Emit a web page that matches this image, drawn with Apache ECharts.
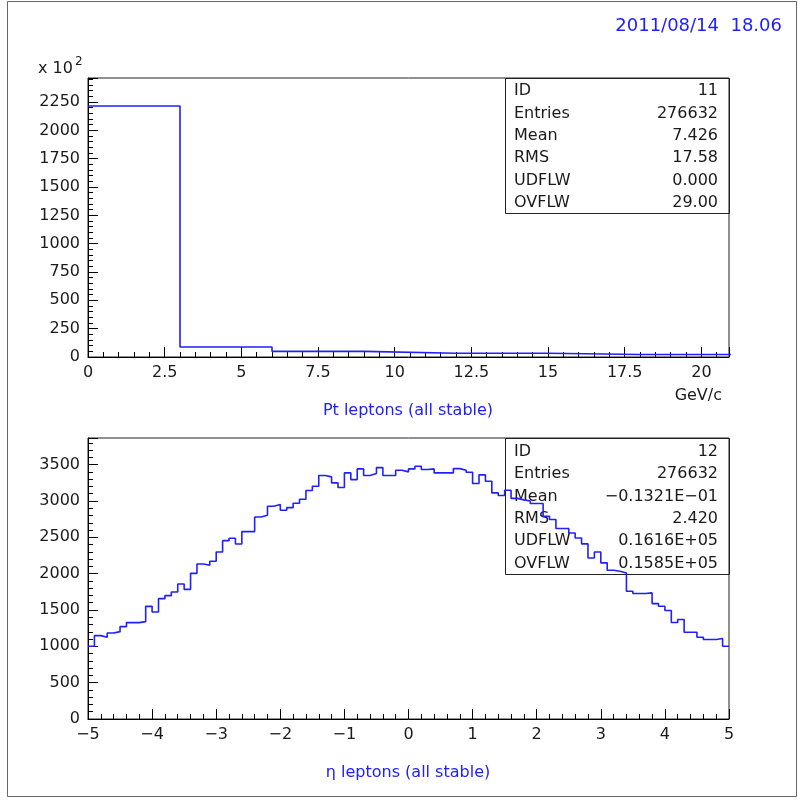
<!DOCTYPE html>
<html>
<head>
<meta charset="utf-8">
<script src="https://cdn.jsdelivr.net/npm/echarts@6/dist/echarts.min.js"></script>
<style>
  html, body { margin: 0; padding: 0; background: #ffffff; }
  #chart { width: 798px; height: 800px; }
</style>
</head>
<body>
<div id="chart"></div>
<script>
// ---- Histogram 11: Pt of stable leptons (counts in units of 10^2) ----
const ptBinEdges = [0, 3, 6, 9, 12, 15, 18, 21];
const ptCounts = [2215, 88, 50, 33, 33, 22, 22];
const ptStats = [
  ['ID', '11'], ['Entries', '276632'], ['Mean', '7.426'],
  ['RMS', '17.58'], ['UDFLW', '0.000'], ['OVFLW', '29.00']
];

// ---- Histogram 12: eta of stable leptons, 100 bins on [-5, 5] ----
const etaRange = [-5, 5];
const etaCounts = [
  1000, 1147, 1124, 1184, 1202, 1271, 1326, 1326, 1340, 1550,
  1472, 1656, 1697, 1748, 1858, 1784, 2004, 2133, 2115, 2170,
  2298, 2454, 2486, 2408, 2578, 2578, 2780, 2803, 2927, 2950,
  2872, 2908, 2968, 3023, 3143, 3203, 3350, 3331, 3249, 3184,
  3386, 3294, 3441, 3350, 3377, 3459, 3350, 3350, 3423, 3400,
  3441, 3478, 3432, 3441, 3386, 3386, 3386, 3445, 3423, 3395,
  3240, 3359, 3271, 3111, 3074, 3148, 3035, 3015, 3000, 2964,
  2964, 2790, 2745, 2620, 2620, 2560, 2491, 2409, 2216, 2298,
  2148, 2047, 2033, 2010, 1758, 1726, 1726, 1735, 1588, 1551,
  1492, 1327, 1368, 1193, 1193, 1125, 1093, 1093, 1107, 1001
];
const etaStats = [
  ['ID', '12'], ['Entries', '276632'], ['Mean', '\u22120.1321E\u221201'],
  ['RMS', '2.420'], ['UDFLW', '0.1616E+05'], ['OVFLW', '0.1585E+05']
];

// ---- Text ----
const dateStamp = '2011/08/14  18.06';
const ptTitle = 'Pt leptons (all stable)';
const etaTitle = '\u03b7 leptons (all stable)';
const ptUnit = 'GeV/c';

const FONT = '"DejaVu Sans", sans-serif';
const BLUE = '#2020ff';
const INK = '#1a1a1a';

// Outline of a histogram as a stepped polyline through the bin edges.
function stepPoints(edges, counts) {
  const pts = counts.map((c, i) => [edges[i], c]);
  pts.push([edges[edges.length - 1], counts[counts.length - 1]]);
  return pts;
}
const etaEdges = [];
for (let i = 0; i <= etaCounts.length; i++) {
  etaEdges.push(etaRange[0] + (etaRange[1] - etaRange[0]) * i / etaCounts.length);
}

function onGrid(v, step) {
  const r = v / step;
  return Math.abs(r - Math.round(r)) < 1e-6;
}
function fmt(v) {
  let s = String(Math.round(v * 1000) / 1000);
  return s.replace('-', '\u2212');
}

function majorAxis(gridIndex, min, max, interval, position) {
  return {
    type: 'value', gridIndex, min, max, interval, position,
    axisLine: { show: true, onZero: false, lineStyle: { color: '#000', width: 1 } },
    axisTick: { show: true, inside: true, length: 10, lineStyle: { color: '#000', width: 1 } },
    axisLabel: {
      show: true, margin: 8, fontFamily: FONT, fontSize: 16, color: INK,
      formatter: v => onGrid(v, interval) ? fmt(v) : ''
    },
    splitLine: { show: false }
  };
}
function minorAxis(gridIndex, min, max, interval, position) {
  return {
    type: 'value', gridIndex, min, max, interval, position,
    axisLine: { show: false, onZero: false },
    axisTick: { show: true, inside: true, length: 5, lineStyle: { color: '#000', width: 1 } },
    axisLabel: { show: false },
    splitLine: { show: false }
  };
}

const PT_XMAX = 20.9, PT_YMAX = 2462;
const ETA_YMAX = 3866;

function statsGraphics(stats, box, rowTop, rowStep) {
  const g = [{
    type: 'rect', z: 1,
    shape: { x: box.x + 0.5, y: box.y + 0.5, width: box.w, height: box.h },
    style: { fill: 'none', stroke: '#222', lineWidth: 1 }
  }];
  stats.forEach((row, i) => {
    const y = rowTop + i * rowStep;
    g.push({ type: 'text', z: 1, style: { x: box.x + 9, y, text: row[0], font: '16px ' + FONT, fill: INK, textAlign: 'left', textVerticalAlign: 'middle' } });
    g.push({ type: 'text', z: 1, style: { x: box.x + box.w - 11, y, text: row[1], font: '16px ' + FONT, fill: INK, textAlign: 'right', textVerticalAlign: 'middle' } });
  });
  return g;
}

const chart = echarts.init(document.getElementById('chart'), null, { renderer: 'canvas' });

chart.setOption({
  animation: false,
  backgroundColor: '#ffffff',
  grid: [
    { left: 88, right: 69, top: 78, height: 279, show: true, borderColor: '#222', borderWidth: 1, containLabel: false },
    { left: 88, right: 69, top: 438, height: 281, show: true, borderColor: '#222', borderWidth: 1, containLabel: false }
  ],
  xAxis: [
    majorAxis(0, 0, PT_XMAX, 2.5, 'bottom'),
    minorAxis(0, 0, PT_XMAX, 0.5, 'bottom'),
    majorAxis(1, etaRange[0], etaRange[1], 1, 'bottom'),
    minorAxis(1, etaRange[0], etaRange[1], 0.2, 'bottom')
  ],
  yAxis: [
    majorAxis(0, 0, PT_YMAX, 250, 'left'),
    minorAxis(0, 0, PT_YMAX, 50, 'left'),
    majorAxis(1, 0, ETA_YMAX, 500, 'left'),
    minorAxis(1, 0, ETA_YMAX, 100, 'left')
  ],
  series: [
    {
      type: 'line', xAxisIndex: 0, yAxisIndex: 0, step: 'end', symbol: 'none',
      clip: true, z: 5,
      lineStyle: { color: BLUE, width: 1.6 },
      data: stepPoints(ptBinEdges, ptCounts)
    },
    {
      type: 'line', xAxisIndex: 2, yAxisIndex: 2, step: 'end', symbol: 'none',
      clip: true, z: 5,
      lineStyle: { color: BLUE, width: 1.6 },
      data: stepPoints(etaEdges, etaCounts)
    }
  ],
  graphic: [
    { type: 'rect', z: 0, shape: { x: 7.5, y: 1.5, width: 789, height: 795 }, style: { fill: 'none', stroke: '#666', lineWidth: 1 } },
    { type: 'text', z: 1, style: { x: 782, y: 26, text: dateStamp, font: '18px ' + FONT, fill: BLUE, textAlign: 'right', textVerticalAlign: 'middle' } },
    { type: 'text', z: 1, style: { x: 38, y: 69, text: 'x 10', font: '16px ' + FONT, fill: INK, textAlign: 'left', textVerticalAlign: 'middle' } },
    { type: 'text', z: 1, style: { x: 75, y: 62, text: '2', font: '12px ' + FONT, fill: INK, textAlign: 'left', textVerticalAlign: 'middle' } },
    { type: 'text', z: 1, style: { x: 722, y: 396, text: ptUnit, font: '16px ' + FONT, fill: INK, textAlign: 'right', textVerticalAlign: 'middle' } },
    { type: 'text', z: 1, style: { x: 408, y: 411, text: ptTitle, font: '16px ' + FONT, fill: BLUE, textAlign: 'center', textVerticalAlign: 'middle' } },
    { type: 'text', z: 1, style: { x: 408, y: 773, text: etaTitle, font: '16px ' + FONT, fill: BLUE, textAlign: 'center', textVerticalAlign: 'middle' } }
  ].concat(
    statsGraphics(ptStats, { x: 505, y: 78, w: 224, h: 135 }, 91, 22.4),
    statsGraphics(etaStats, { x: 505, y: 438, w: 224, h: 136 }, 452, 22.3)
  )
});
</script>
</body>
</html>
